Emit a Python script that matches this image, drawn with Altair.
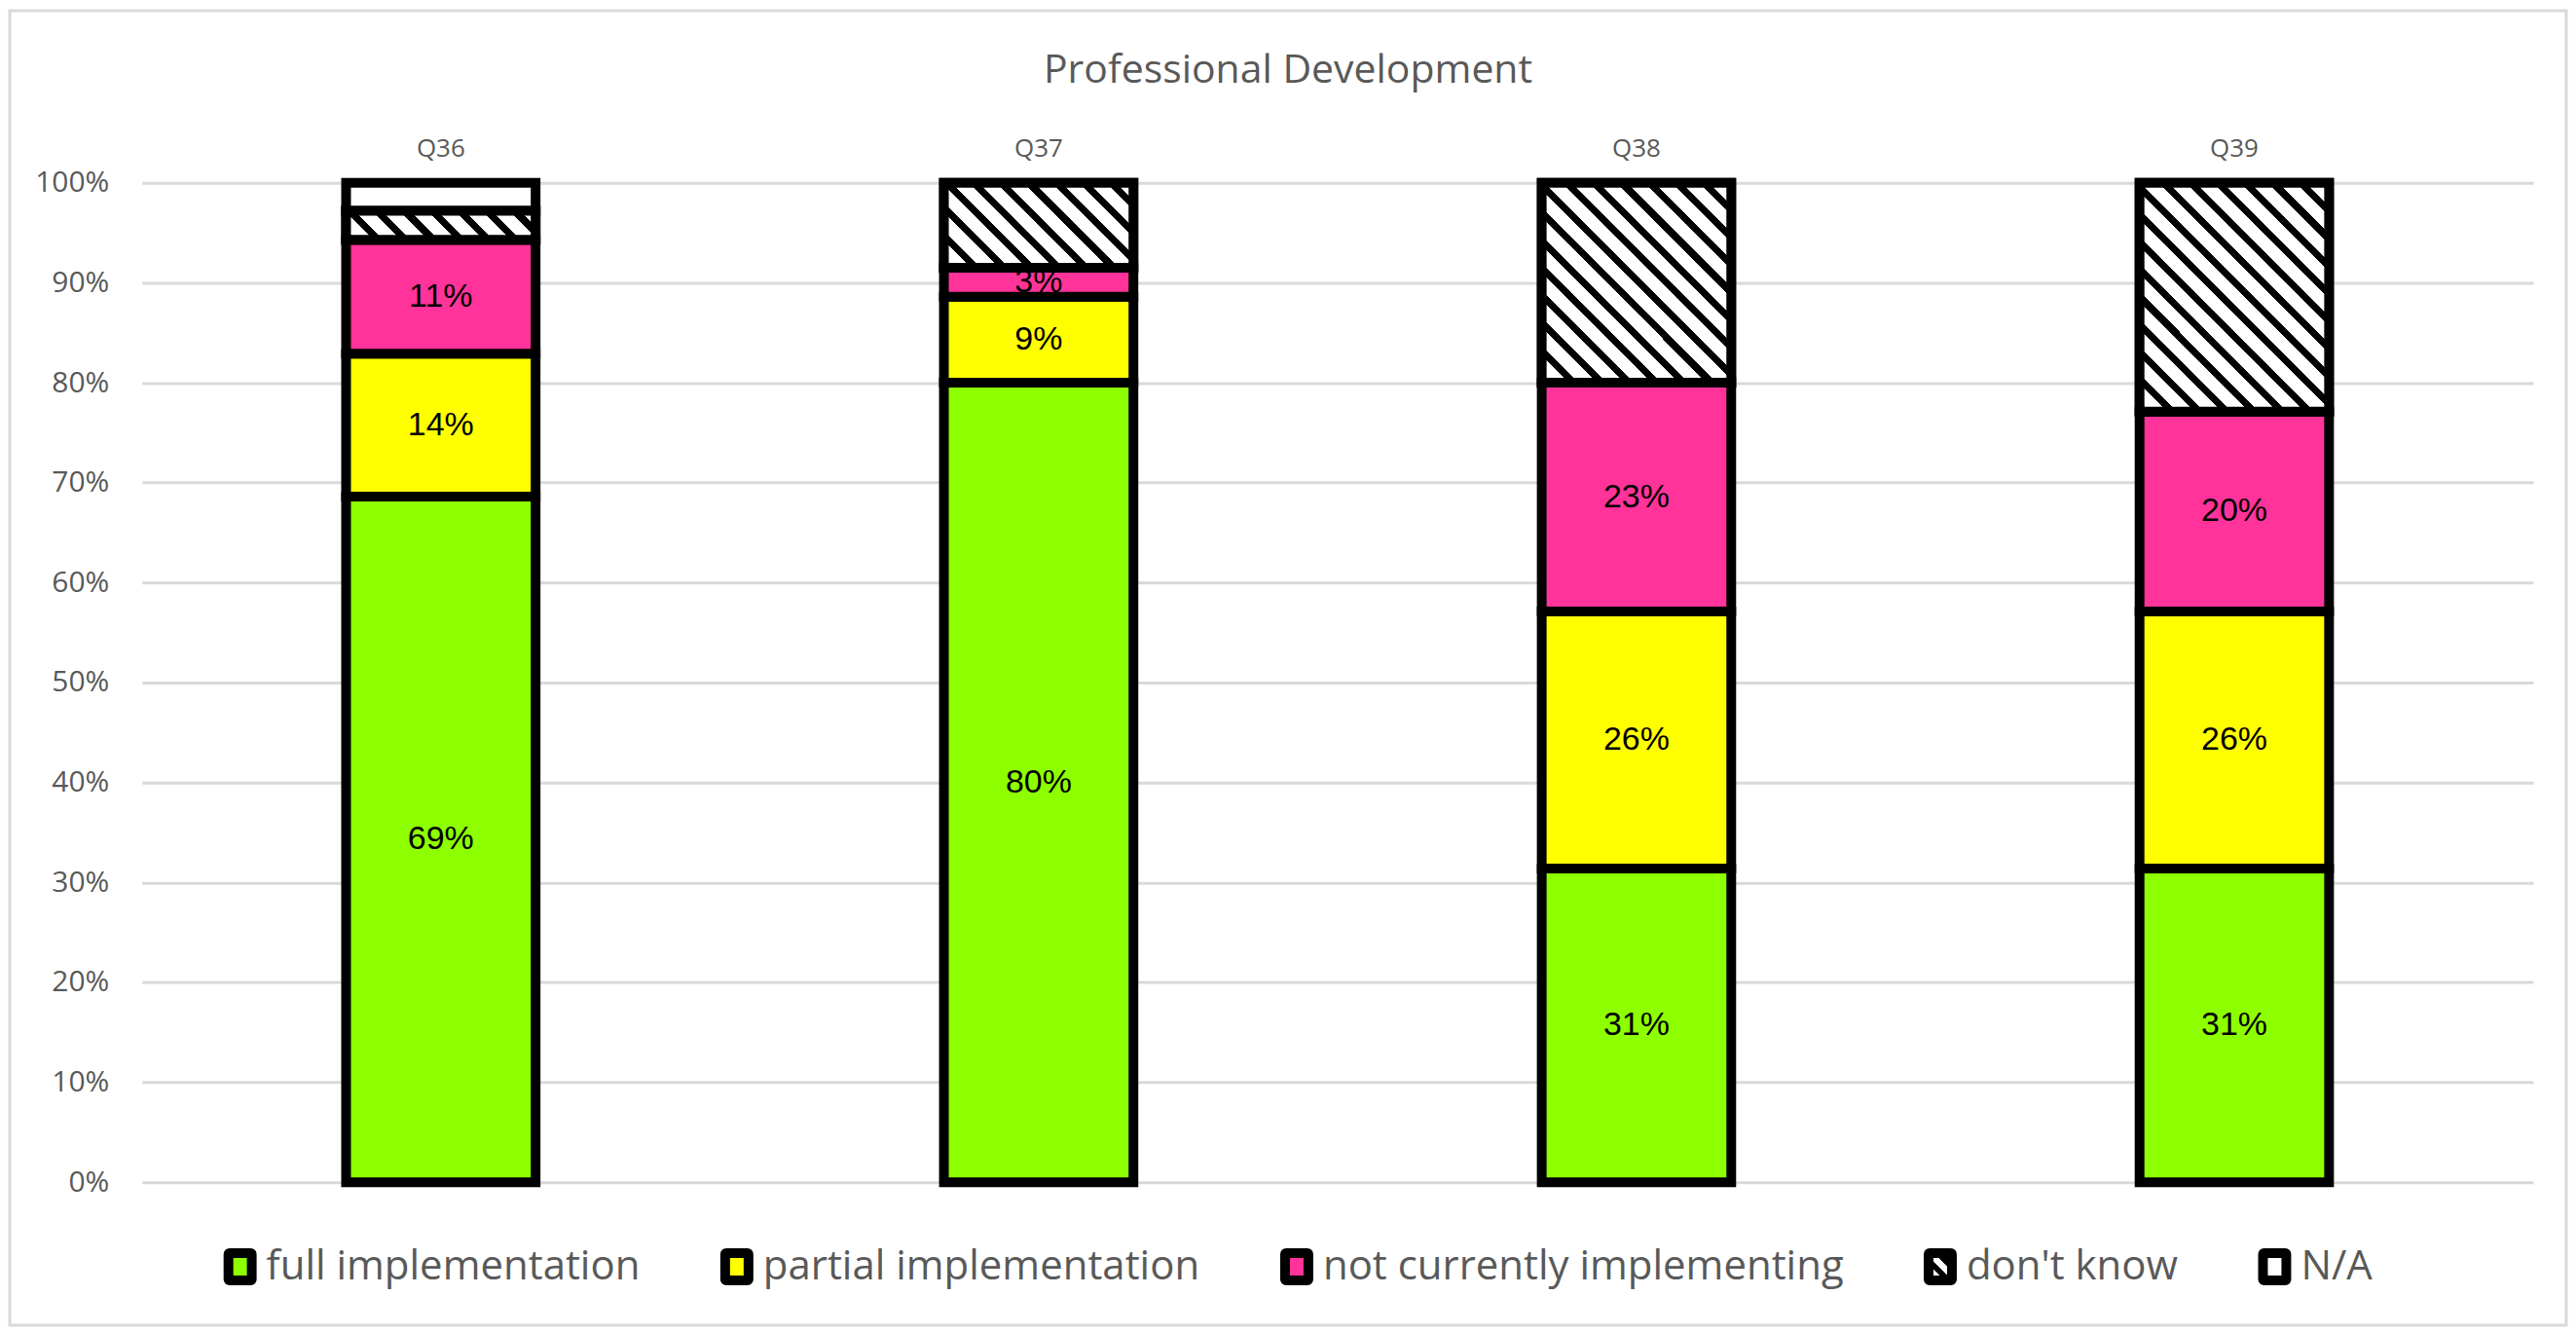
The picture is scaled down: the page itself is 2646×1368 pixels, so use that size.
import json
import math
import altair as alt
import pandas as pd

# ---------------- data ----------------
questions = ["Q36", "Q37", "Q38", "Q39"]
categories = ["full implementation", "partial implementation",
              "not currently implementing", "don't know", "N/A"]
colors = ["#8EFF00", "#FFFF00", "#FF3399", "#FFFFFF", "#FFFFFF"]
full = [68.6, 80.0, 31.4, 31.4]
partial = [14.3, 8.6, 25.7, 25.7]
not_current = [11.4, 2.9, 22.9, 20.0]
dont_know = [2.9, 8.5, 20.0, 22.9]
na = [2.8, 0.0, 0.0, 0.0]
labelled = ["full implementation", "partial implementation", "not currently implementing"]
title_text = "Professional Development"
y_ticks = [0.0, 0.1, 0.2, 0.3, 0.4, 0.5, 0.6, 0.7, 0.8, 0.9, 1.0]

# ---------------- layout / style ----------------
W_PLOT, H_PLOT = 2460, 1028
BAR_W = 195
GREY = "#595959"
GRID = "#D9D9D9"

series = [full, partial, not_current, dont_know, na]
rows = []
for qi, q in enumerate(questions):
    cum = 0.0
    for ci, cat in enumerate(categories):
        v = series[ci][qi]
        rows.append(dict(q=q, cat=cat, order=ci, v=v / 100.0,
                         lo=cum / 100.0, hi=(cum + v) / 100.0,
                         mid=(cum + v / 2.0) / 100.0,
                         lbl=f"{round(v):d}%"))
        cum += v
df = pd.DataFrame(rows)
df_nz = df[df.v > 0].reset_index(drop=True)


def hatch(h_px, w_px=BAR_W, period=20.0, frac=0.36):
    """Diagonal black/white stripes as a hard-stop linear gradient."""
    W, H = float(w_px), float(h_px)
    t = (W + H) / (W * W + H * H)
    D = (W + H) / math.sqrt(2)
    n = D / period
    stops = []
    k = 0
    while k < n:
        a = min(k / n, 1.0)
        b = min((k + frac) / n, 1.0)
        c = min((k + 1) / n, 1.0)
        stops += [{"offset": round(a, 5), "color": "black"}, {"offset": round(b, 5), "color": "black"},
                  {"offset": round(b, 5), "color": "white"}, {"offset": round(c, 5), "color": "white"}]
        k += 1
    return {"gradient": "linear", "stops": stops,
            "x1": 0, "y1": 1, "x2": round(t * W, 5), "y2": round(1 - t * H, 5)}


x_enc = alt.X("q:N", title=None,
              scale=alt.Scale(domain=questions, paddingInner=0.683, paddingOuter=0.3415),
              axis=alt.Axis(orient="top", labelFont="Open Sans", labelFontSize=26,
                            labelColor=GREY, labelPadding=22, ticks=False,
                            domain=False, grid=False, labelAngle=0, title=None))


def y_enc(field):
    return alt.Y(f"{field}:Q", title=None, scale=alt.Scale(domain=[0, 1]),
                 axis=alt.Axis(values=y_ticks, format=".0%", labelFont="Open Sans",
                               labelFontSize=30, labelColor=GREY, labelPadding=34,
                               ticks=False, domain=False, grid=True,
                               gridColor=GRID, gridWidth=3, title=None))


# slightly tall square with tiny rounded corners (stroke makes outer corners round)
SYMBOL_PATH = ("M-0.777,-1H0.777Q0.857,-1,0.857,-0.92V0.92Q0.857,1,0.777,1"
               "H-0.777Q-0.857,1,-0.857,0.92V-0.92Q-0.857,-1,-0.777,-1Z")

# hatch used for the legend swatch of "don't know" (via the colour scale range)
legend_hatch = hatch(28, 24, period=12, frac=0.45)
range_variants = [
    colors[:3] + [{"expr": json.dumps(legend_hatch)}] + colors[4:],
    colors,
]


def build(color_range):
    legend = alt.Legend(orient="none", legendX=80, legendY=1094, direction="horizontal",
                        columns=5, title=None, labelFont="Open Sans", labelFontSize=42,
                        labelColor=GREY, labelLimit=2000, symbolType=SYMBOL_PATH,
                        symbolSize=784, symbolStrokeWidth=10, symbolStrokeColor="black",
                        labelOffset=6, columnPadding=67, padding=0, symbolOpacity=1)

    frame = alt.Chart(pd.DataFrame({"f": [0]})).mark_rect(
        filled=False, stroke=GRID, strokeWidth=3
    ).encode(x=alt.value(-136), x2=alt.value(W_PLOT + 34),
             y=alt.value(-177), y2=alt.value(H_PLOT + 147))

    bars = alt.Chart(df_nz).mark_bar(stroke="black", strokeWidth=10, opacity=1).encode(
        x=x_enc,
        y=y_enc("lo"),
        y2="hi:Q",
        color=alt.Color("cat:N", scale=alt.Scale(domain=categories, range=color_range),
                        legend=legend),
    )

    hatch_layers = []
    for qi, q in enumerate(questions):
        v = dont_know[qi]
        if v <= 0:
            continue
        h_px = v / 100.0 * H_PLOT
        layer = alt.Chart(df_nz).transform_filter(
            (alt.datum.q == q) & (alt.datum.cat == "don't know")
        ).mark_bar(stroke="black", strokeWidth=10, fill=hatch(h_px)).encode(
            x=x_enc, y=y_enc("lo"), y2="hi:Q")
        hatch_layers.append(layer)

    labels = alt.Chart(df_nz).transform_filter(
        alt.FieldOneOfPredicate(field="cat", oneOf=labelled)
    ).mark_text(font="Liberation Sans", fontSize=34, color="black",
                baseline="middle", align="center").encode(
        x=x_enc, y=y_enc("mid"), text="lbl:N")

    title = alt.Chart(pd.DataFrame({"t": [title_text]})).mark_text(
        font="Open Sans", fontSize=41, color=GREY, align="center", baseline="alphabetic"
    ).encode(text="t:N", x=alt.value(1179), y=alt.value(-103))

    return alt.layer(frame, bars, *hatch_layers, labels, title).properties(
        width=W_PLOT, height=H_PLOT,
        padding={"left": 138, "top": 179, "right": 36, "bottom": 149},
        autosize=alt.AutoSizeParams(type="none"),
        background="white",
    ).configure_view(strokeWidth=0)


chart = None
for rng in range_variants:
    try:
        candidate = build(rng)
        candidate.to_dict()
        chart = candidate
        break
    except Exception:
        continue

chart.save("out.html", embed_options={"renderer": "svg", "actions": False})
